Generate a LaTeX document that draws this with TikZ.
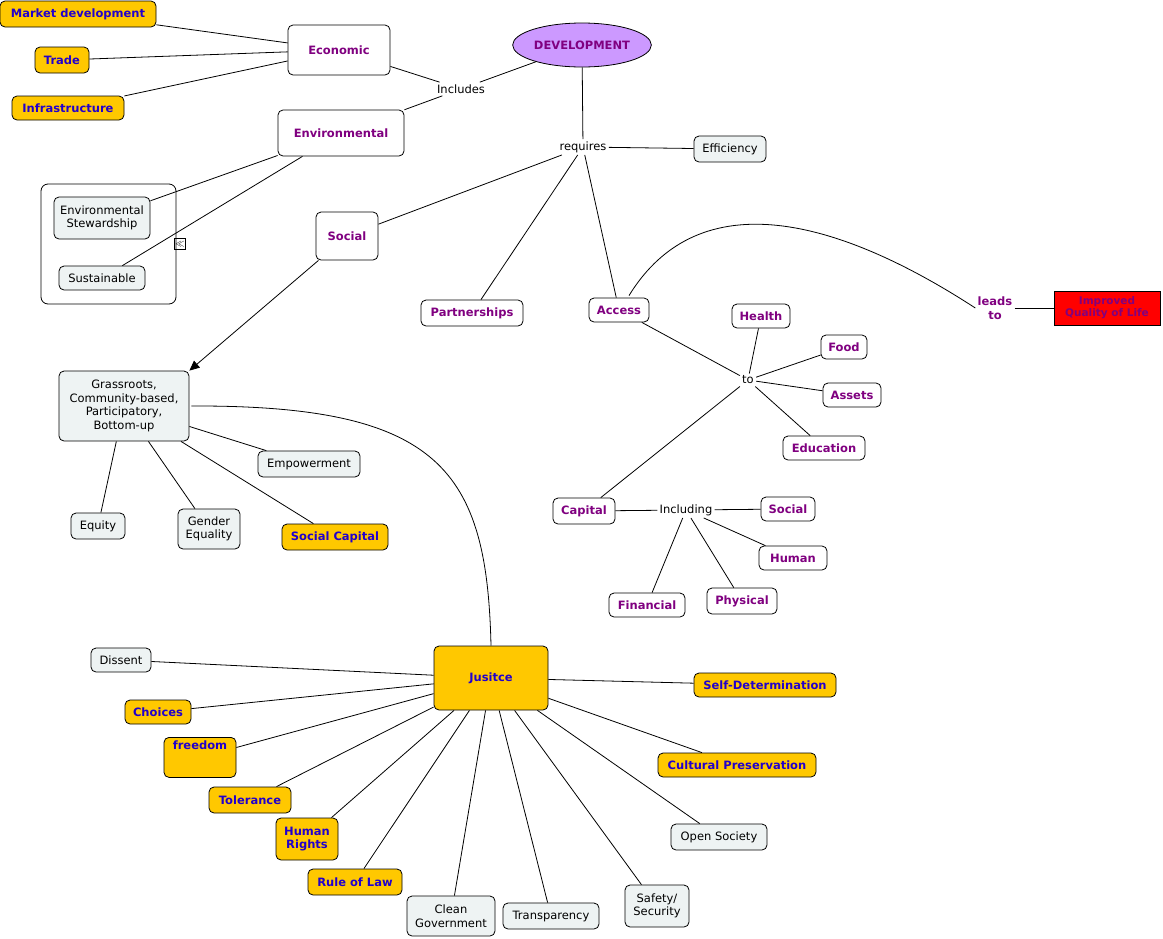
\documentclass[tikz,border=0pt]{standalone}
\usepackage{fontspec}
\setmainfont{DejaVu Sans}
\usetikzlibrary{shapes.geometric,arrows.meta}
\definecolor{gold}{HTML}{FFC800}
\definecolor{bluet}{HTML}{2200CC}
\definecolor{purp}{HTML}{800080}
\definecolor{pale}{HTML}{EEF3F3}
\definecolor{lilac}{HTML}{CC99FF}
\begin{document}
\begin{tikzpicture}[x=1pt,y=-1pt,font=\fontsize{11.5}{13.5}\selectfont,line width=0.8pt,
 base/.style={draw,rounded corners=5pt,align=center,inner sep=2pt},
 bf/.style={font=\fontsize{11.5}{13.5}\selectfont\bfseries},
 yb/.style={base,fill=gold,text=bluet,bf},
 pb/.style={base,fill=white,text=purp,bf},
 gb/.style={base,fill=pale},
 lk/.style={fill=white,inner sep=2pt,align=center},
 sz/.style 2 args={minimum width=#1,minimum height=#2}]
\useasboundingbox (0,0) rectangle (1163,938);
% nodes
\node[yb,sz={156}{26}] (md) at (78,14) {Market development};
\node[yb,sz={54}{26}] (tr) at (62,60) {Trade};
\node[yb,sz={112}{24}] (inf) at (68,108) {Infrastructure};
\node[pb,sz={102}{50}] (eco) at (339,50) {Economic};
\node[ellipse,draw,fill=lilac,text=purp,bf,minimum width=116,minimum height=44,inner sep=1pt] (dev) at (582,45) {DEVELOPMENT};
\node[lk] (inc) at (461,89) {Includes};
\node[pb,sz={126}{46}] (env) at (341,133) {Environmental};
\node[lk] (req) at (583,147) {requires};
\node[gb,sz={72}{26}] (eff) at (730,149) {Efficiency};
\node[draw,rounded corners=7pt,minimum width=135,minimum height=120] (grp) at (108.5,244) {};
\node[gb,sz={96}{42}] (es) at (102,218) {Environmental\\Stewardship};
\node[gb,sz={86}{24}] (sus) at (102,278) {Sustainable};
\node[draw,line width=0.6pt,inner sep=0.3pt,minimum size=11pt,font=\fontsize{9}{9}\selectfont] (ex) at (180,244) {$\ll$};
\node[pb,sz={62}{48}] (soc) at (347,236) {Social};
\node[pb,sz={102}{26}] (par) at (472,313) {Partnerships};
\node[pb,sz={60}{24}] (acc) at (619,310) {Access};
\node[lk,text=purp,bf] (lt) at (995,308) {leads\\to};
\node[draw,fill=red,text=purp,font=\fontsize{10.5}{12}\selectfont\bfseries,minimum width=106,minimum height=34,align=center,inner sep=1pt] (iq) at (1107,308) {Improved\\Quality of Life};
\node[pb,sz={58}{24}] (hea) at (761,316) {Health};
\node[pb,sz={46}{24}] (food) at (844,347) {Food};
\node[lk] (to) at (748,380) {to};
\node[pb,sz={58}{24}] (ass) at (852,395) {Assets};
\node[pb,sz={82}{24}] (edu) at (824,448) {Education};
\node[gb,sz={130}{70}] (gr) at (124,406) {Grassroots,\\Community-based,\\Participatory,\\Bottom-up};
\node[gb,sz={102}{26}] (emp) at (309,464) {Empowerment};
\node[gb,sz={54}{26}] (eq) at (98,526) {Equity};
\node[gb,sz={62}{40}] (ge) at (209,529) {Gender\\Equality};
\node[yb,sz={106}{26}] (sc) at (335,537) {Social Capital};
\node[pb,sz={62}{26}] (cap) at (584,511) {Capital};
\node[lk] (incl) at (686,510) {Including};
\node[pb,sz={54}{24}] (soc2) at (788,509) {Social};
\node[pb,sz={68}{24}] (hum) at (793,558) {Human};
\node[pb,sz={76}{24}] (fin) at (647,605) {Financial};
\node[pb,sz={70}{26}] (phy) at (742,601) {Physical};
\node[yb,sz={114}{64}] (jus) at (491,678) {Jusitce};
\node[gb,sz={60}{24}] (dis) at (121,660) {Dissent};
\node[yb,sz={66}{24}] (cho) at (158,712) {Choices};
\node[yb,sz={72}{40},anchor=north] (fre) at (200,737) {freedom\\[12pt]};
\node[yb,sz={82}{26}] (tol) at (250,800) {Tolerance};
\node[yb,sz={62}{42}] (hr) at (307,839) {Human\\Rights};
\node[yb,sz={94}{26}] (rol) at (355,882) {Rule of Law};
\node[gb,sz={88}{40}] (cg) at (451,916) {Clean\\Government};
\node[gb,sz={96}{26}] (tra) at (551,916) {Transparency};
\node[gb,sz={64}{42}] (saf) at (657,906) {Safety/\\Security};
\node[gb,sz={96}{26}] (os) at (719,837) {Open Society};
\node[yb,sz={158}{24}] (cp) at (737,765) {Cultural Preservation};
\node[yb,sz={142}{24}] (sd) at (765,685) {Self-Determination};
% edges
\foreach \a/\b in {md/eco,tr/eco,inf/eco,eco/inc,inc/dev,inc/env,dev/req,req/eff,req/soc,req/par,req/acc,env/es,env/sus,lt/iq,acc/to,to/hea,to/food,to/ass,to/edu,to/cap,cap/incl,incl/soc2,incl/hum,incl/fin,incl/phy,gr/emp,gr/eq,gr/ge,gr/sc,jus/dis,jus/cho,jus/fre,jus/tol,jus/hr,jus/rol,jus/cg,jus/tra,jus/saf,jus/os,jus/cp,jus/sd}
  \draw (\a) -- (\b);
\draw[-{Triangle[length=10pt,width=9pt]}] (soc) -- (gr.north east);
\draw (acc.north) ++(10,-2) .. controls (700,180) and (840,220) .. (lt.west);
\draw (gr.east) ++(2,0) .. controls (440,405) and (487,470) .. (jus.north);
\end{tikzpicture}
\end{document}
